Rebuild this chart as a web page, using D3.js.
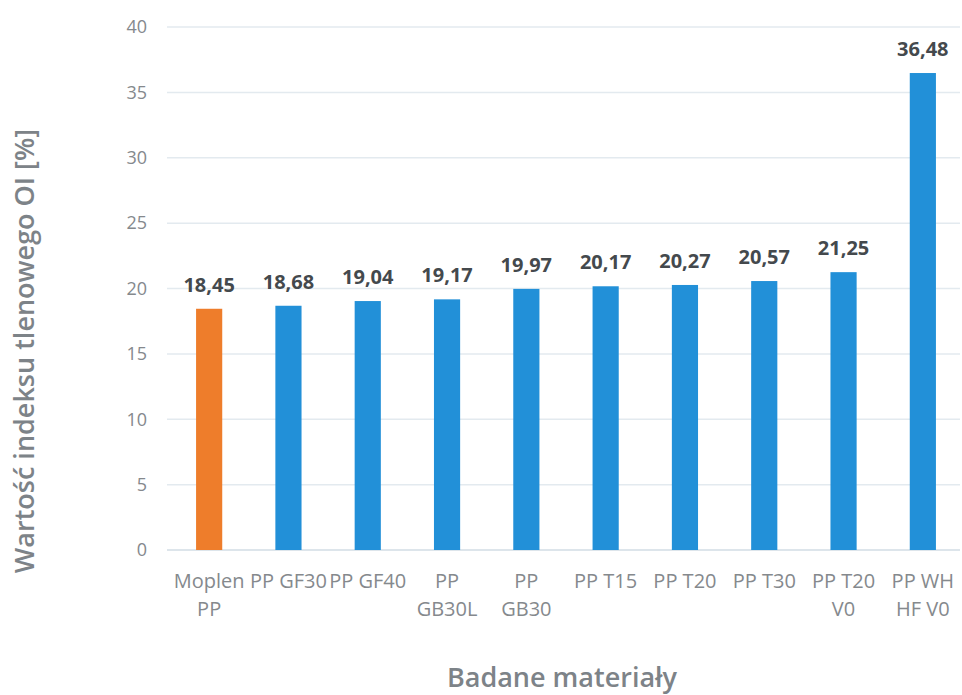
<!DOCTYPE html>
<html><head><meta charset="utf-8">
<script src="https://cdn.jsdelivr.net/npm/d3@7"></script>
<style>body{margin:0;background:#fff}text{font-family:"Open Sans",sans-serif}</style>
</head><body><svg id="c" width="962" height="695"></svg>
<script>
const categories = [["Moplen","PP"],["PP GF30"],["PP GF40"],["PP","GB30L"],["PP","GB30"],["PP T15"],["PP T20"],["PP T30"],["PP T20","V0"],["PP WH","HF V0"]];
const values = [18.45,18.68,19.04,19.17,19.97,20.17,20.27,20.57,21.25,36.48];
const valueLabels = ["18,45","18,68","19,04","19,17","19,97","20,17","20,27","20,57","21,25","36,48"];
const barColors = ["#EE7D2B","#2290D8","#2290D8","#2290D8","#2290D8","#2290D8","#2290D8","#2290D8","#2290D8","#2290D8"];
const yTicks = [0,5,10,15,20,25,30,35,40];
const yTitle = "Wartość indeksu tlenowego OI [%]";
const xTitle = "Badane materiały";

const svg = d3.select("#c");
const keys = categories.map((c,i)=>i);
const x = d3.scaleBand().domain(keys).range([169.5,962.5]).paddingInner(0.67).paddingOuter(0.335);
const y = d3.scaleLinear().domain([0,40]).range([550,27]);

svg.append("g").selectAll("line").data(yTicks.filter(t=>t>0)).join("line")
  .attr("x1",167).attr("x2",960).attr("y1",d=>y(d)).attr("y2",d=>y(d))
  .attr("stroke","#e3eaef").attr("stroke-width",1.5);
svg.append("line").attr("x1",167).attr("x2",960).attr("y1",y(0)).attr("y2",y(0))
  .attr("stroke","#d2dde5").attr("stroke-width",1.5);

const ya = svg.append("g").attr("transform","translate(147,0)")
  .call(d3.axisLeft(y).tickValues(yTicks).tickSize(0).tickPadding(0));
ya.select(".domain").remove();
ya.selectAll("text").attr("font-size",18).attr("fill","#85898d").attr("font-family","'Open Sans',sans-serif");

svg.append("g").selectAll("rect").data(values).join("rect")
  .attr("x",(d,i)=>x(i)).attr("width",x.bandwidth())
  .attr("y",d=>y(d)).attr("height",d=>y(0)-y(d))
  .attr("fill",(d,i)=>barColors[i]);

svg.append("g").selectAll("text").data(values).join("text")
  .attr("x",(d,i)=>x(i)+x.bandwidth()/2).attr("y",d=>y(d)-17)
  .attr("text-anchor","middle").attr("font-size",20).attr("font-weight",700)
  .attr("fill","#44494d").text((d,i)=>valueLabels[i]);

const xl = svg.append("g").selectAll("text").data(categories).join("text")
  .attr("x",(d,i)=>x(i)+x.bandwidth()/2).attr("y",588)
  .attr("text-anchor","middle").attr("font-size",20).attr("fill","#85898d");
xl.selectAll("tspan").data(d=>d).join("tspan")
  .attr("x",function(){return this.parentNode.getAttribute("x");})
  .attr("dy",(d,i)=>i===0?0:28).text(d=>d);

svg.append("text").attr("transform","translate(34,351) rotate(-90)")
  .attr("text-anchor","middle").attr("font-size",27).attr("font-weight",600)
  .attr("fill","#7d8388").text(yTitle);
svg.append("text").attr("x",562).attr("y",687)
  .attr("text-anchor","middle").attr("font-size",27).attr("font-weight",600)
  .attr("fill","#7d8388").text(xTitle);
</script></body></html>
